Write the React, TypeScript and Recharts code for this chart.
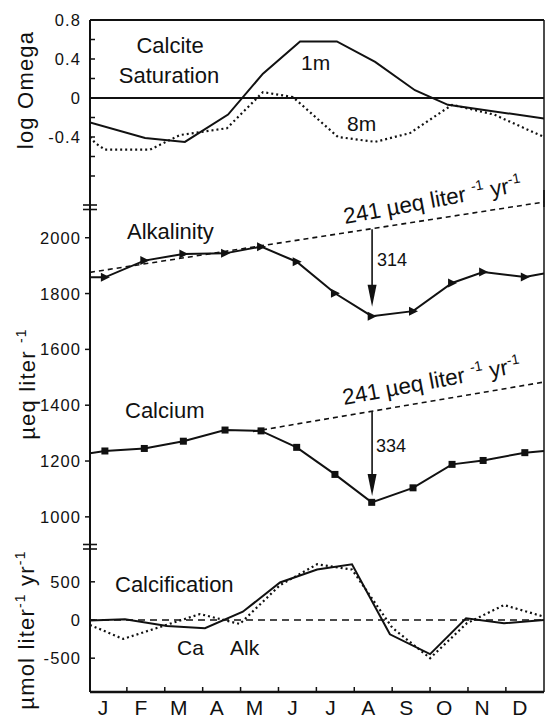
import React from 'react'
import { LineChart, Line, XAxis, YAxis, ReferenceLine, ReferenceDot } from 'recharts'

// x is a month index: 0 = January ... 11 = December
const months = ['J', 'F', 'M', 'A', 'M', 'J', 'J', 'A', 'S', 'O', 'N', 'D']
const xDomain: [number, number] = [-0.343, 11.636]

// top panel: log Omega (calcite saturation) at 1 m and 8 m
const omega1mX = [-0.343, 1.11, 2.16, 3.3, 4.22, 5.2, 6.17, 7.18, 8.23, 9.1, 11.636]
const omega1m = [-0.25, -0.41, -0.45, -0.17, 0.25, 0.58, 0.58, 0.37, 0.08, -0.07, -0.21]
const omega8mX = [-0.343, -0.21, 0.05, 1.24, 2.03, 3.27, 4.22, 5.01, 6.2, 7.18, 8.1, 9.21, 10.32, 11.636]
const omega8m = [-0.4, -0.46, -0.53, -0.53, -0.38, -0.31, 0.06, 0.01, -0.4, -0.45, -0.36, -0.07, -0.17, -0.4]
const omegaTicks = [0.8, 0.6, 0.4, 0.2, 0, -0.2, -0.4, -0.6, -0.8]
const omegaLabelled = [0.8, 0.4, 0, -0.4]

// middle panel: alkalinity and calcium (ueq/l); first and last points are the line ends
const alkX = [-0.343, 0.05, 1.09, 2.12, 3.22, 4.17, 5.11, 6.12, 7.09, 8.18, 9.21, 10.03, 11.13, 11.636]
const alkalinity = [1858, 1858, 1918, 1942, 1944, 1968, 1914, 1801, 1719, 1737, 1838, 1877, 1859, 1872]
const caX = [-0.343, 0.05, 1.09, 2.12, 3.22, 4.17, 5.11, 6.12, 7.09, 8.18, 9.21, 10.03, 11.13, 11.636]
const calcium = [1228, 1236, 1245, 1271, 1311, 1308, 1249, 1152, 1052, 1104, 1188, 1202, 1230, 1236]
const alkTrendX = [-0.343, 11.636]
const alkTrend = [1876, 2128]
const caTrendX = [3.96, 11.636]
const caTrend = [1306, 1483]
const concTicks = [1000, 1200, 1400, 1600, 1800, 2000]

// deficit arrows in August
const arrowX = 7.1
const alkArrow = [2030, 1753]
const caArrow = [1378, 1075]

// bottom panel: calcification (umol/l/yr)
const caCalcX = [-0.343, 0.58, 1.69, 2.69, 3.69, 4.67, 5.65, 6.57, 7.57, 8.63, 9.58, 10.58, 11.636]
const caCalc = [-5, 10, -78, -108, 108, 491, 661, 730, -187, -447, 22, -43, 0]
const alkCalcX = [-0.343, 0.53, 2.56, 3.61, 4.67, 5.65, 6.57, 7.63, 8.63, 9.6, 10.58, 11.636]
const alkCalc = [-65, -248, 78, -52, 456, 730, 661, -100, -500, -43, 196, 43]
const calcTicks = [-500, 0, 500]

const toPts = (xs: number[], ys: number[]) => xs.map((x, i) => ({ x, y: ys[i] }))

const FONT = '"Liberation Sans", Arial, Helvetica, sans-serif'
const INK = '#111'

const makeYTick = (labelled: number[], inward: boolean, fmt: (v: number) => string) => (props: any) => {
  const { x, y, payload } = props
  const v = payload.value
  const show = labelled.includes(v)
  return (
    <g key={`yt-${v}`}>
      <line x1={x} x2={inward ? x + 5 : x - 5} y1={y} y2={y} stroke={INK} strokeWidth={1.5} />
      {show && (
        <text x={x - 9} y={y} dy={6} textAnchor='end' fontSize={16.5} letterSpacing={1.1} fill={INK} fontFamily={FONT}>
          {fmt(v)}
        </text>
      )}
    </g>
  )
}

const monthTicks = [...months.map((_, i) => i), ...months.slice(1).map((_, i) => i + 1 - 0.37)].sort((a, b) => a - b)

const XTick = (props: any) => {
  const { x, y, payload } = props
  const v = payload.value
  const idx = Math.round(v)
  if (Math.abs(v - idx) < 1e-6) {
    return (
      <text key={`xt-${v}`} x={x} y={y + 23} textAnchor='middle' fontSize={21} fill={INK} fontFamily={FONT}>
        {months[idx]}
      </text>
    )
  }
  return <line key={`xt-${v}`} x1={x} x2={x} y1={y} y2={y - 5} stroke={INK} strokeWidth={1.5} />
}

const triangleDot = (props: any) => {
  const { cx, cy, index } = props
  if (index === 0 || index === alkX.length - 1) return <g key={`ad-${index}`} />
  return <polygon key={`ad-${index}`} points={`${cx - 4},${cy - 4.5} ${cx + 5},${cy} ${cx - 4},${cy + 4.5}`} fill={INK} />
}

const squareDot = (props: any) => {
  const { cx, cy, index } = props
  if (index === 0 || index === caX.length - 1) return <g key={`cd-${index}`} />
  return <rect key={`cd-${index}`} x={cx - 3.5} y={cy - 3.5} width={7} height={7} fill={INK} />
}

const arrowHead = (props: any) => {
  const { cx, cy } = props
  return <polygon points={`${cx - 4.5},${cy - 22} ${cx + 4.5},${cy - 22} ${cx},${cy}`} fill={INK} />
}

const Sup = ({ children }: { children: React.ReactNode }) => (
  <tspan fontSize={14} dy={-9}>
    {children}
  </tspan>
)

const rateLabel = (
  <>
    241 µeq liter <Sup>-1</Sup>
    <tspan dy={9}>  yr</tspan>
    <Sup>-1</Sup>
  </>
)

const xAxisHidden = <XAxis type='number' dataKey='x' domain={xDomain} allowDataOverflow hide />

export default function App() {
  return (
    <div style={{ position: 'absolute', left: 0, top: 0, width: 545, height: 718, background: '#fff', fontFamily: FONT }}>
      {/* calcite saturation */}
      <div style={{ position: 'absolute', left: 0, top: 0 }}>
        <LineChart width={545} height={207} margin={{ top: 20, right: 1, bottom: 0, left: 0 }}>
          {xAxisHidden}
          <YAxis
            type='number'
            domain={[-1.118, 0.8]}
            allowDataOverflow
            ticks={omegaTicks}
            interval={0}
            width={90}
            tickSize={0}
            tickMargin={0}
            tickLine={false}
            axisLine={{ stroke: INK, strokeWidth: 2 }}
            tick={makeYTick(omegaLabelled, true, (v) => (v === 0 ? '0' : v.toFixed(1)))}
          />
          <ReferenceLine y={0.8} stroke={INK} strokeWidth={2} ifOverflow='visible' />
          <ReferenceLine y={0} stroke={INK} strokeWidth={2} />
          <ReferenceLine x={xDomain[1]} stroke={INK} strokeWidth={1.5} ifOverflow='visible' />
          <Line data={toPts(omega1mX, omega1m)} dataKey='y' stroke={INK} strokeWidth={2} dot={false} isAnimationActive={false} />
          <Line data={toPts(omega8mX, omega8m)} dataKey='y' stroke={INK} strokeWidth={2.2} strokeDasharray='2 3' dot={false} isAnimationActive={false} />
        </LineChart>
      </div>

      {/* alkalinity and calcium */}
      <div style={{ position: 'absolute', left: 0, top: 190 }}>
        <LineChart width={545} height={357} margin={{ top: 0, right: 1, bottom: 0, left: 0 }}>
          {xAxisHidden}
          <YAxis
            type='number'
            domain={[892, 2171]}
            allowDataOverflow
            ticks={concTicks}
            interval={0}
            width={90}
            tickSize={0}
            tickMargin={0}
            tickLine={false}
            axisLine={{ stroke: INK, strokeWidth: 2 }}
            tick={makeYTick(concTicks, false, (v) => String(v))}
          />
          <ReferenceLine x={xDomain[1]} stroke={INK} strokeWidth={1.5} ifOverflow='visible' />
          <Line data={toPts(alkTrendX, alkTrend)} dataKey='y' stroke={INK} strokeWidth={1.6} strokeDasharray='5 4' dot={false} isAnimationActive={false} />
          <Line data={toPts(caTrendX, caTrend)} dataKey='y' stroke={INK} strokeWidth={1.6} strokeDasharray='5 4' dot={false} isAnimationActive={false} />
          <Line data={toPts(alkX, alkalinity)} dataKey='y' stroke={INK} strokeWidth={2} dot={triangleDot} isAnimationActive={false} />
          <Line data={toPts(caX, calcium)} dataKey='y' stroke={INK} strokeWidth={2} dot={squareDot} isAnimationActive={false} />
          <ReferenceLine segment={[{ x: arrowX, y: alkArrow[0] }, { x: arrowX, y: alkArrow[1] + 40 }]} stroke={INK} strokeWidth={1.6} />
          <ReferenceDot x={arrowX} y={alkArrow[1]} shape={arrowHead} />
          <ReferenceLine segment={[{ x: arrowX, y: caArrow[0] }, { x: arrowX, y: caArrow[1] + 40 }]} stroke={INK} strokeWidth={1.6} />
          <ReferenceDot x={arrowX} y={caArrow[1]} shape={arrowHead} />
        </LineChart>
      </div>

      {/* calcification */}
      <div style={{ position: 'absolute', left: 0, top: 547 }}>
        <LineChart width={545} height={171} margin={{ top: 0, right: 1, bottom: 0, left: 0 }}>
          <XAxis
            type='number'
            dataKey='x'
            domain={xDomain}
            allowDataOverflow
            ticks={monthTicks}
            interval={0}
            height={26}
            tickSize={0}
            tickMargin={0}
            tickLine={false}
            axisLine={{ stroke: INK, strokeWidth: 2.5 }}
            tick={XTick}
          />
          <YAxis
            type='number'
            domain={[-943, 956]}
            allowDataOverflow
            ticks={calcTicks}
            interval={0}
            width={90}
            tickSize={0}
            tickMargin={0}
            tickLine={false}
            axisLine={{ stroke: INK, strokeWidth: 2 }}
            tick={makeYTick(calcTicks, true, (v) => String(v))}
          />
          <ReferenceLine x={xDomain[1]} stroke={INK} strokeWidth={1.5} ifOverflow='visible' />
          <ReferenceLine y={0} stroke={INK} strokeWidth={1.6} strokeDasharray='7 5' />
          <Line data={toPts(caCalcX, caCalc)} dataKey='y' stroke={INK} strokeWidth={2} dot={false} isAnimationActive={false} />
          <Line data={toPts(alkCalcX, alkCalc)} dataKey='y' stroke={INK} strokeWidth={2.2} strokeDasharray='2 3' dot={false} isAnimationActive={false} />
        </LineChart>
      </div>

      {/* annotations, axis titles and axis breaks */}
      <svg width={545} height={718} style={{ position: 'absolute', left: 0, top: 0, pointerEvents: 'none' }} fontFamily={FONT} fill={INK}>
        <g stroke={INK} strokeWidth={1.6}>
          <line x1={83} x2={97} y1={205} y2={205} />
          <line x1={83} x2={97} y1={209.5} y2={209.5} />
          <line x1={83} x2={97} y1={544.5} y2={544.5} />
          <line x1={83} x2={97} y1={549} y2={549} />
        </g>

        <text x={33} y={90} transform='rotate(-90 33 90)' textAnchor='middle' fontSize={22} letterSpacing={1.2}>
          log Omega
        </text>
        <text x={35} y={384} transform='rotate(-90 35 384)' textAnchor='middle' fontSize={22} letterSpacing={1.2}>
          µeq liter <Sup>-1</Sup>
        </text>
        <text x={34} y={630} transform='rotate(-90 34 630)' textAnchor='middle' fontSize={22} letterSpacing={1.2}>
          µmol liter<Sup>-1</Sup>
          <tspan dy={9}> yr</tspan>
          <Sup>-1</Sup>
        </text>

        <text x={170} y={53} textAnchor='middle' fontSize={22}>Calcite</text>
        <text x={169} y={83} textAnchor='middle' fontSize={22}>Saturation</text>
        <text x={301} y={70} fontSize={21}>1m</text>
        <text x={347} y={131} fontSize={21}>8m</text>

        <text x={127} y={239} fontSize={22}>Alkalinity</text>
        <text x={345} y={224} fontSize={22.5} transform='rotate(-10.5 345 224)'>{rateLabel}</text>
        <text x={377} y={266} fontSize={18}>314</text>

        <text x={125} y={418} fontSize={22}>Calcium</text>
        <text x={344} y={405} fontSize={22.5} transform='rotate(-10.5 344 405)'>{rateLabel}</text>
        <text x={376} y={452} fontSize={18}>334</text>

        <text x={115} y={592} fontSize={22}>Calcification</text>
        <text x={177} y={655} fontSize={21}>Ca</text>
        <text x={230} y={655} fontSize={21}>Alk</text>
      </svg>
    </div>
  )
}
